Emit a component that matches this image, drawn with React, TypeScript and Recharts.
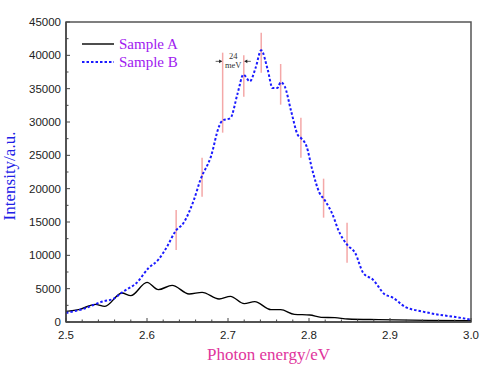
import { LineChart, Line, XAxis, YAxis, ReferenceLine, ReferenceArea, Legend } from 'recharts'

// Sample A (black solid)
const energyA = [2.5, 2.517, 2.536, 2.548, 2.569, 2.58, 2.6, 2.614, 2.631, 2.652, 2.668, 2.689, 2.703, 2.72, 2.733, 2.753, 2.765, 2.782, 2.801, 2.815, 2.832, 2.848, 2.886, 2.948, 3.0]
const intensityA = [1600, 1900, 2650, 2350, 4350, 3950, 5950, 4850, 5500, 4200, 4450, 3450, 3850, 2750, 3050, 1850, 1850, 1150, 1050, 700, 650, 450, 350, 250, 200]

// Sample B (blue dotted)
const energyB = [2.5, 2.521, 2.546, 2.558, 2.571, 2.587, 2.602, 2.614, 2.625, 2.635, 2.645, 2.658, 2.666, 2.679, 2.689, 2.693, 2.703, 2.712, 2.719, 2.727, 2.734, 2.741, 2.749, 2.755, 2.761, 2.765, 2.77, 2.778, 2.786, 2.79, 2.797, 2.804, 2.813, 2.819, 2.83, 2.836, 2.847, 2.857, 2.867, 2.879, 2.894, 2.902, 2.919, 2.939, 2.96, 2.981, 3.0]
const intensityB = [1350, 1950, 3100, 3450, 4600, 5850, 8100, 9350, 11350, 13600, 14850, 18350, 21350, 24850, 29350, 30200, 30600, 34350, 37100, 36100, 38100, 40750, 37850, 35100, 35100, 35950, 35350, 31600, 28100, 27600, 26350, 22850, 19350, 18350, 15850, 13850, 11600, 10350, 7350, 6350, 4100, 3750, 2250, 1600, 1100, 750, 350]

// pink peak markers
const peakEnergy = [2.636, 2.668, 2.6934, 2.7195, 2.741, 2.765, 2.79, 2.818, 2.847]
const peakLow = [10800, 18800, 28400, 33800, 37400, 32600, 24650, 15650, 8900]
const peakHigh = [16800, 24650, 40400, 40000, 43400, 38700, 30650, 21500, 14900]
const spacingLevel = 39100
const spacingText = ['24', 'meV']

const xTicks = [2.5, 2.52, 2.54, 2.56, 2.58, 2.6, 2.62, 2.64, 2.66, 2.68, 2.7, 2.72, 2.74, 2.76, 2.78, 2.8, 2.82, 2.84, 2.86, 2.88, 2.9, 2.92, 2.94, 2.96, 2.98, 3.0]
const yTicks = [0, 2500, 5000, 7500, 10000, 12500, 15000, 17500, 20000, 22500, 25000, 27500, 30000, 32500, 35000, 37500, 40000, 42500, 45000]

const sampleA = energyA.map((e, i) => ({ e, v: intensityA[i] }))
const sampleB = energyB.map((e, i) => ({ e, v: intensityB[i] }))

const serif = '"Liberation Serif", "Times New Roman", serif'
const sans = '"Liberation Sans", Arial, sans-serif'
const axisColor = '#444'
const pink = '#f4a8a8'

const series = [
  { name: 'Sample A', color: '#000', width: 1.4, dash: undefined as string | undefined },
  { name: 'Sample B', color: '#1a1aff', width: 2, dash: '2.5 2' },
]

const isMajor = (v: number, step: number) => Math.abs(v / step - Math.round(v / step)) < 1e-6

const XTick = (props: any) => {
  const { x, y, payload } = props
  const major = isMajor(payload.value, 0.1)
  return (
    <g>
      <line x1={x} x2={x} y1={y} y2={y - (major ? 4 : 2.5)} stroke={axisColor} strokeWidth={1} />
      {major && (
        <text x={x} y={y + 16.5} textAnchor="middle" fontSize={11.5} fontFamily={sans} fill="#222">
          {payload.value.toFixed(1)}
        </text>
      )}
    </g>
  )
}

const YTick = (props: any) => {
  const { x, y, payload } = props
  const major = isMajor(payload.value, 5000)
  return (
    <g>
      <line x1={x} x2={x + (major ? 4 : 2.5)} y1={y} y2={y} stroke={axisColor} strokeWidth={1} />
      {major && (
        <text x={x - 5} y={y + 4} textAnchor="end" fontSize={11.5} fontFamily={sans} fill="#222">
          {payload.value}
        </text>
      )}
    </g>
  )
}

const xTitle = (props: any) => {
  const { viewBox } = props
  return (
    <text x={viewBox.x + viewBox.width / 2} y={viewBox.y + 38} textAnchor="middle" fontSize={17} fontFamily={serif} fill="#e0359c">
      Photon energy/eV
    </text>
  )
}

const yTitle = (props: any) => {
  const { viewBox } = props
  const cx = viewBox.x + 15
  const cy = viewBox.y + viewBox.height / 2 + 4
  return (
    <text x={cx} y={cy} transform={`rotate(-90 ${cx} ${cy})`} textAnchor="middle" fontSize={17} fontFamily={serif} fill="#2020e6">
      Intensity/a.u.
    </text>
  )
}

const SpacingMark = (p: any) => {
  const left = Math.min(p.x1, p.x2)
  const right = Math.max(p.x1, p.x2)
  const y = p.y1
  const mid = (left + right) / 2
  return (
    <g>
      <line x1={left - 7} x2={left - 1} y1={y} y2={y} stroke="#333" strokeWidth={0.8} />
      <polygon points={`${left - 0.5},${y} ${left - 3.5},${y - 1.8} ${left - 3.5},${y + 1.8}`} fill="#222" />
      <line x1={right + 1} x2={right + 7} y1={y} y2={y} stroke="#333" strokeWidth={0.8} />
      <polygon points={`${right + 0.5},${y} ${right + 3.5},${y - 1.8} ${right + 3.5},${y + 1.8}`} fill="#222" />
      <text x={mid} y={y - 2.5} textAnchor="middle" fontSize={8.5} fontFamily={serif} fill="#333">{spacingText[0]}</text>
      <text x={mid} y={y + 6.5} textAnchor="middle" fontSize={8.5} fontFamily={serif} fill="#333">{spacingText[1]}</text>
    </g>
  )
}

const renderLegend = () => (
  <div style={{ fontFamily: serif, fontSize: 15, color: '#a020f0', lineHeight: '18px' }}>
    {series.map((s) => (
      <div key={s.name} style={{ display: 'flex', alignItems: 'center', height: 18 }}>
        <svg width={33} height={18}>
          <line x1={0} x2={32} y1={9} y2={9} stroke={s.color} strokeWidth={s.width} strokeDasharray={s.dash} />
        </svg>
        <span style={{ marginLeft: 4 }}>{s.name}</span>
      </div>
    ))}
  </div>
)

export default function App() {
  return (
    <div style={{ position: 'absolute', left: 0, top: 0, background: '#fff' }}>
      <LineChart width={482} height={371} margin={{ top: 22, right: 11, bottom: 0, left: 0 }}>
        <XAxis
          type="number"
          dataKey="e"
          domain={[2.5, 3.0]}
          ticks={xTicks}
          interval={0}
          tickSize={0}
          tickMargin={0}
          tickLine={false}
          tick={<XTick />}
          axisLine={{ stroke: axisColor, strokeWidth: 1.5 }}
          height={49}
          allowDataOverflow
          label={xTitle}
        />
        <YAxis
          type="number"
          domain={[0, 45000]}
          ticks={yTicks}
          interval={0}
          tickSize={0}
          tickMargin={0}
          tickLine={false}
          tick={<YTick />}
          axisLine={{ stroke: axisColor, strokeWidth: 1.5 }}
          width={66}
          allowDataOverflow
          label={yTitle}
        />
        <ReferenceArea x1={2.5} x2={3.0} y1={0} y2={45000} fill="none" stroke="#555" strokeWidth={1.5} ifOverflow="visible" />
        {peakEnergy.map((e, i) => (
          <ReferenceLine
            key={e}
            segment={[{ x: e, y: peakLow[i] }, { x: e, y: peakHigh[i] }]}
            stroke={pink}
            strokeWidth={1.5}
          />
        ))}
        <ReferenceLine
          segment={[{ x: peakEnergy[2], y: spacingLevel }, { x: peakEnergy[3], y: spacingLevel }]}
          shape={SpacingMark}
        />
        <Line data={sampleA} dataKey="v" name={series[0].name} type="monotone" stroke={series[0].color} strokeWidth={series[0].width} dot={false} isAnimationActive={false} />
        <Line data={sampleB} dataKey="v" name={series[1].name} type="monotone" stroke={series[1].color} strokeWidth={series[1].width} strokeDasharray={series[1].dash} dot={false} isAnimationActive={false} />
        <Legend
          content={renderLegend}
          layout="vertical"
          align="center"
          verticalAlign="middle"
          wrapperStyle={{ left: 82, top: 35, width: 'auto', height: 'auto' }}
        />
      </LineChart>
    </div>
  )
}
